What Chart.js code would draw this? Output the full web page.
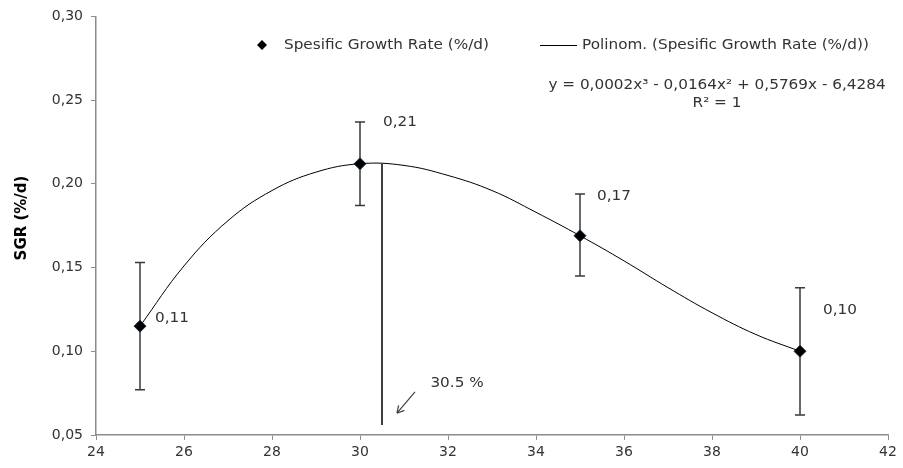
<!DOCTYPE html>
<html><head><meta charset="utf-8">
<script src="https://cdn.jsdelivr.net/npm/chart.js@4"></script>
<style>html,body{margin:0;padding:0;background:#fff}#wrap{width:903px;height:468px;position:relative}</style>
</head><body><div id="wrap"><canvas id="c" width="903" height="468"></canvas></div>
<script>
// ---- data ----
const temps = [25, 30, 35, 40];
const sgr = [0.115, 0.212, 0.169, 0.100];
const errHigh = [0.153, 0.237, 0.194, 0.138];
const errLow = [0.077, 0.187, 0.145, 0.062];
const pointLabels = ['0,11', '0,21', '0,17', '0,10'];
const curveX = [25, 26, 27, 28, 29, 30, 31, 32, 33, 34, 35, 36, 37, 38, 39, 40];
const curveY = [0.115, 0.151, 0.178, 0.196, 0.207, 0.212, 0.211, 0.205, 0.196, 0.183, 0.169, 0.154, 0.138, 0.123, 0.110, 0.100];
const optimumX = 30.5;
const optimumTop = 0.212;
const optimumBottom = 0.056;
const optimumLabel = '30.5 %';
const xTickLabels = ['24', '26', '28', '30', '32', '34', '36', '38', '40', '42'];
const yTickLabels = ['0,05', '0,10', '0,15', '0,20', '0,25', '0,30'];
const seriesName = 'Spesific Growth Rate (%/d)';
const trendName = 'Polinom. (Spesific Growth Rate (%/d))';
const equationText = 'y = 0,0002x³ - 0,0164x² + 0,5769x - 6,4284';
const r2Text = 'R² = 1';
const yTitle = 'SGR (%/d)';

const FONT = '"DejaVu Sans", Verdana, sans-serif';
const TXT = '#333333';
const AXIS = '#8c8c8c';
const SX = 1.13;

function sText(ctx, str, x, y, align) {
  const w = ctx.measureText(str).width * SX;
  let left = x;
  if (align === 'center') left = x - w / 2;
  else if (align === 'right') left = x - w;
  ctx.save();
  ctx.translate(left, y);
  ctx.scale(SX, 1);
  ctx.textAlign = 'left';
  ctx.fillText(str, 0, 0);
  ctx.restore();
}

const overlay = {
  id: 'overlay',
  beforeDatasetsDraw(chart) {
    const ctx = chart.ctx, xs = chart.scales.x, ys = chart.scales.y;
    ctx.save();
    ctx.strokeStyle = '#3a3a3a';
    ctx.lineWidth = 1.5;
    temps.forEach((t, i) => {
      const px = xs.getPixelForValue(t);
      const pt = ys.getPixelForValue(errHigh[i]);
      const pb = ys.getPixelForValue(errLow[i]);
      ctx.beginPath();
      ctx.moveTo(px, pt); ctx.lineTo(px, pb);
      ctx.moveTo(px - 5, pt); ctx.lineTo(px + 5, pt);
      ctx.moveTo(px - 5, pb); ctx.lineTo(px + 5, pb);
      ctx.stroke();
    });
    ctx.strokeStyle = '#000';
    ctx.lineWidth = 1.5;
    const ox = xs.getPixelForValue(optimumX);
    ctx.beginPath();
    ctx.moveTo(ox, ys.getPixelForValue(optimumTop));
    ctx.lineTo(ox, ys.getPixelForValue(optimumBottom));
    ctx.stroke();
    ctx.restore();
  },
  afterDatasetsDraw(chart) {
    const ctx = chart.ctx, xs = chart.scales.x, ys = chart.scales.y;
    ctx.save();
    ctx.font = '13.5px ' + FONT;
    ctx.fillStyle = TXT;
    ctx.textBaseline = 'middle';
    const offs = [[15, -8], [23, -41], [17, -39], [23, -41]];
    temps.forEach((t, i) => {
      const px = xs.getPixelForValue(t), py = ys.getPixelForValue(sgr[i]);
      sText(ctx, pointLabels[i], px + offs[i][0], py + offs[i][1], 'left');
    });
    const tipX = xs.getPixelForValue(30.84), tipY = ys.getPixelForValue(0.063);
    const tailX = xs.getPixelForValue(31.25), tailY = ys.getPixelForValue(0.0757);
    ctx.strokeStyle = '#404040';
    ctx.lineWidth = 1.2;
    ctx.beginPath();
    ctx.moveTo(tailX, tailY); ctx.lineTo(tipX, tipY);
    const ang = Math.atan2(tipY - tailY, tipX - tailX);
    ctx.moveTo(tipX, tipY); ctx.lineTo(tipX - 8 * Math.cos(ang - 0.5), tipY - 8 * Math.sin(ang - 0.5));
    ctx.moveTo(tipX, tipY); ctx.lineTo(tipX - 8 * Math.cos(ang + 0.5), tipY - 8 * Math.sin(ang + 0.5));
    ctx.stroke();
    sText(ctx, optimumLabel, xs.getPixelForValue(31.6), ys.getPixelForValue(0.081), 'left');
    // legend
    const ly = 45;
    ctx.fillStyle = '#000';
    ctx.beginPath();
    ctx.moveTo(262, ly - 5); ctx.lineTo(267, ly); ctx.lineTo(262, ly + 5); ctx.lineTo(257, ly); ctx.closePath();
    ctx.fill();
    ctx.fillStyle = TXT;
    sText(ctx, seriesName, 284, ly, 'left');
    ctx.strokeStyle = '#000'; ctx.lineWidth = 1;
    ctx.beginPath(); ctx.moveTo(540, ly + 0.5); ctx.lineTo(577, ly + 0.5); ctx.stroke();
    sText(ctx, trendName, 582, ly, 'left');
    sText(ctx, equationText, 717, 85, 'center');
    sText(ctx, r2Text, 717, 103, 'center');
    // y title
    ctx.translate(22, 218);
    ctx.rotate(-Math.PI / 2);
    ctx.font = 'bold 15px ' + FONT;
    ctx.fillStyle = '#000';
    ctx.textAlign = 'center';
    ctx.fillText(yTitle, 0, 0);
    ctx.restore();
  }
};

new Chart(document.getElementById('c'), {
  type: 'scatter',
  data: {
    datasets: [
      {
        label: trendName,
        data: curveX.map((x, i) => ({ x, y: curveY[i] })),
        showLine: true,
        borderColor: '#000',
        borderWidth: 1,
        pointRadius: 0,
        tension: 0.4
      },
      {
        label: seriesName,
        data: temps.map((x, i) => ({ x, y: sgr[i] })),
        showLine: false,
        pointStyle: 'rectRot',
        pointRadius: 6,
        backgroundColor: '#000',
        borderColor: '#1f2f4f',
        borderWidth: 1
      }
    ]
  },
  options: {
    responsive: false,
    devicePixelRatio: 1,
    animation: false,
    layout: { padding: { top: 16, right: 15, left: 0, bottom: 0 } },
    plugins: { legend: { display: false }, tooltip: { enabled: false } },
    scales: {
      x: {
        type: 'linear', min: 24, max: 42,
        afterFit(s) { s.height = 33; },
        ticks: { stepSize: 2, color: TXT, font: { family: FONT, size: 14 }, padding: 4,
          callback: (v, i) => xTickLabels[i] },
        grid: { drawOnChartArea: false, color: AXIS, tickLength: 5 },
        border: { color: AXIS, width: 1.5 }
      },
      y: {
        min: 0.05, max: 0.30,
        afterFit(s) { s.width = 96; },
        ticks: { stepSize: 0.05, color: TXT, font: { family: FONT, size: 14 }, padding: 8,
          callback: (v, i) => yTickLabels[i] },
        grid: { drawOnChartArea: false, color: AXIS, tickLength: 5 },
        border: { color: AXIS, width: 1.5 }
      }
    }
  },
  plugins: [overlay]
});
</script>
</body></html>
